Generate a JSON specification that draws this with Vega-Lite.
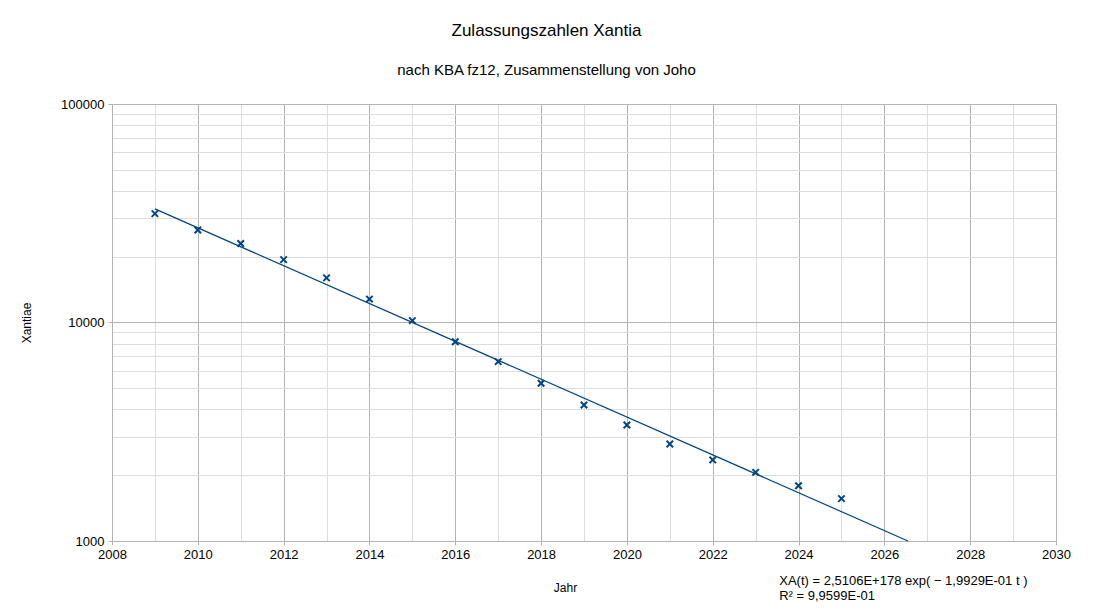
{
  "$schema": "https://vega.github.io/schema/vega-lite/v6.json",
  "width": 944,
  "height": 437,
  "autosize": {"type": "none"},
  "padding": {"left": 112, "top": 104, "right": 37, "bottom": 74},
  "background": "white",
  "config": {"font": "Liberation Sans", "view": {"stroke": null}},
  "title": {
    "text": "Zulassungszahlen Xantia",
    "subtitle": "nach KBA fz12, Zusammenstellung von Joho",
    "fontSize": 17,
    "fontWeight": "normal",
    "color": "#000000",
    "subtitleFontSize": 15,
    "subtitleColor": "#000000",
    "anchor": "middle",
    "dx": -37.5,
    "offset": 19,
    "subtitlePadding": 23
  },
  "datasets": {
    "points": [
      {"Jahr": 2009, "Xantiae": 31500},
      {"Jahr": 2010, "Xantiae": 26500},
      {"Jahr": 2011, "Xantiae": 23000},
      {"Jahr": 2012, "Xantiae": 19400},
      {"Jahr": 2013, "Xantiae": 16000},
      {"Jahr": 2014, "Xantiae": 12800},
      {"Jahr": 2015, "Xantiae": 10200},
      {"Jahr": 2016, "Xantiae": 8170},
      {"Jahr": 2017, "Xantiae": 6620},
      {"Jahr": 2018, "Xantiae": 5270},
      {"Jahr": 2019, "Xantiae": 4190},
      {"Jahr": 2020, "Xantiae": 3395},
      {"Jahr": 2021, "Xantiae": 2780},
      {"Jahr": 2022, "Xantiae": 2350},
      {"Jahr": 2023, "Xantiae": 2062},
      {"Jahr": 2024, "Xantiae": 1790},
      {"Jahr": 2025, "Xantiae": 1563}
    ],
    "trend": [
      {"Jahr": 2009, "Xantiae": 33100},
      {"Jahr": 2026.55, "Xantiae": 1000}
    ]
  },
  "layer": [
    {
      "data": {"name": "trend"},
      "mark": {"type": "line", "color": "#004586", "strokeWidth": 1.2},
      "encoding": {
        "x": {
          "field": "Jahr",
          "type": "quantitative",
          "scale": {"domain": [2008, 2030], "nice": false, "zero": false},
          "axis": {
            "values": [2008, 2009, 2010, 2011, 2012, 2013, 2014, 2015, 2016, 2017, 2018, 2019, 2020, 2021, 2022, 2023, 2024, 2025, 2026, 2027, 2028, 2029, 2030],
            "format": "d",
            "labelExpr": "datum.value % 2 == 0 ? datum.label : ''",
            "labelOverlap": false,
            "labelFlush": false,
            "labelFontSize": 13,
            "labelColor": "#000000",
            "labelPadding": 3,
            "grid": true,
            "gridColor": {"condition": {"test": "datum.value % 2 == 0", "value": "#b3b3b3"}, "value": "#dddddd"},
            "gridWidth": 1,
            "tickColor": {"condition": {"test": "datum.value % 2 == 0", "value": "#b3b3b3"}, "value": "transparent"},
            "tickSize": 4,
            "domainColor": "#b3b3b3",
            "title": "Jahr",
            "titleFontSize": 12,
            "titleFontWeight": "normal",
            "titleColor": "#000000",
            "titlePadding": 21,
            "titleX": 453
          }
        },
        "y": {
          "field": "Xantiae",
          "type": "quantitative",
          "scale": {"type": "log", "domain": [1000, 100000], "nice": false},
          "axis": {
            "values": [1000, 2000, 3000, 4000, 5000, 6000, 7000, 8000, 9000, 10000, 20000, 30000, 40000, 50000, 60000, 70000, 80000, 90000, 100000],
            "format": "d",
            "labelExpr": "(datum.value == 1000 || datum.value == 10000 || datum.value == 100000) ? datum.label : ''",
            "labelOverlap": false,
            "labelFlush": false,
            "labelFontSize": 13,
            "labelColor": "#000000",
            "labelPadding": 4,
            "grid": true,
            "gridColor": {"condition": {"test": "datum.value == 1000 || datum.value == 10000 || datum.value == 100000", "value": "#b3b3b3"}, "value": "#dddddd"},
            "gridWidth": 1,
            "tickColor": {"condition": {"test": "datum.value == 1000 || datum.value == 10000 || datum.value == 100000", "value": "#b3b3b3"}, "value": "transparent"},
            "tickSize": 4,
            "domainColor": "#b3b3b3",
            "title": "Xantiae",
            "titleFontSize": 12,
            "titleFontWeight": "normal",
            "titleColor": "#000000",
            "titlePadding": 27
          }
        }
      }
    },
    {
      "data": {"name": "points"},
      "mark": {"type": "point", "shape": "M-1,-1L1,1M-1,1L1,-1", "filled": false, "stroke": "#004586", "strokeWidth": 2, "size": 42, "opacity": 1},
      "encoding": {
        "x": {"field": "Jahr", "type": "quantitative"},
        "y": {"field": "Xantiae", "type": "quantitative"}
      }
    },
    {
      "data": {"values": [{}]},
      "mark": {"type": "text", "align": "left", "baseline": "top", "fontSize": 13, "lineHeight": 15, "color": "#000000", "font": "Liberation Sans"},
      "encoding": {
        "x": {"datum": 2023.55},
        "y": {"datum": 699},
        "text": {"value": ["XA(t) = 2,5106E+178 exp( − 1,9929E-01 t )", "R² = 9,9599E-01"]}
      }
    }
  ]
}
